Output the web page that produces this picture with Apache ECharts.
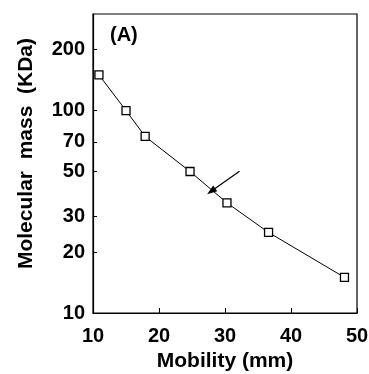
<!DOCTYPE html>
<html><head><meta charset="utf-8">
<script src="https://cdn.jsdelivr.net/npm/echarts@6/dist/echarts.min.js"></script>
<style>html,body{margin:0;padding:0;background:#fff}#c{width:369px;height:374px}</style>
</head><body><div id="c"></div>
<script>
// ---- data ----
const mobility = [10.9, 15.0, 17.9, 24.7, 30.3, 36.6, 48.1];
const mass = [150, 100, 74.5, 50, 35, 25, 15];
const xTicks = [10, 20, 30, 40, 50];
const yTicks = [10, 20, 30, 50, 70, 100, 200];
const arrowFrom = [32.2, 50.2];
const arrowTo = [27.9, 39.9];
const panelLabel = '(A)';
const xTitle = 'Mobility (mm)';
const yTitle = 'Molecular  mass  (KDa)';

const FONT = 'Liberation Sans, Arial, sans-serif';
const chart = echarts.init(document.getElementById('c'), null, {renderer: 'canvas'});
const points = mobility.map((x, i) => [x, mass[i]]);

chart.setOption({
  animation: false,
  backgroundColor: '#fff',
  grid: {left: 93, right: 12, top: 14, bottom: 61, show: true, borderColor: '#000', borderWidth: 1.2, backgroundColor: 'transparent', containLabel: false, outerBoundsMode: 'none'},
  xAxis: {
    type: 'value', min: xTicks[0], max: xTicks[xTicks.length - 1], interval: 10,
    name: xTitle, nameLocation: 'middle', nameGap: 30,
    nameTextStyle: {fontFamily: FONT, fontSize: 21, fontWeight: 'bold', color: '#000'},
    axisLine: {show: true, lineStyle: {color: '#000', width: 1.2}},
    axisTick: {show: true, inside: true, length: 5, lineStyle: {color: '#000'}},
    axisLabel: {fontFamily: FONT, fontSize: 20, fontWeight: 'bold', color: '#000', margin: 13},
    splitLine: {show: false}
  },
  yAxis: {
    type: 'log', logBase: 10, min: 10, max: 300,
    name: yTitle, nameLocation: 'middle', nameGap: 56, nameRotate: 90,
    nameTextStyle: {fontFamily: FONT, fontSize: 21, fontWeight: 'bold', color: '#000', padding: [0, 0, 0, 20]},
    axisLine: {show: true, lineStyle: {color: '#000', width: 1.2}},
    axisTick: {show: true, inside: true, length: 4, customValues: yTicks, lineStyle: {color: '#000'}},
    axisLabel: {fontFamily: FONT, fontSize: 20, fontWeight: 'bold', color: '#000', margin: 8, customValues: yTicks, showMaxLabel: true, showMinLabel: true},
    splitLine: {show: false},
    minorTick: {show: false}
  },
  graphic: [{
    type: 'text', left: 110, top: 25,
    style: {text: panelLabel, fontFamily: FONT, fontSize: 20, fontWeight: 'bold', fill: '#000'}
  }],
  series: [{
    type: 'line',
    data: points,
    symbol: 'rect', symbolSize: 8,
    itemStyle: {color: '#fff', borderColor: '#000', borderWidth: 1.3},
    lineStyle: {color: '#000', width: 1},
    markLine: {
      silent: true,
      symbol: ['none', 'triangle'],
      symbolSize: [7, 10],
      label: {show: false},
      lineStyle: {color: '#000', width: 1.2, type: 'solid'},
      data: [[{coord: arrowFrom}, {coord: arrowTo}]]
    }
  }]
});
</script></body></html>
